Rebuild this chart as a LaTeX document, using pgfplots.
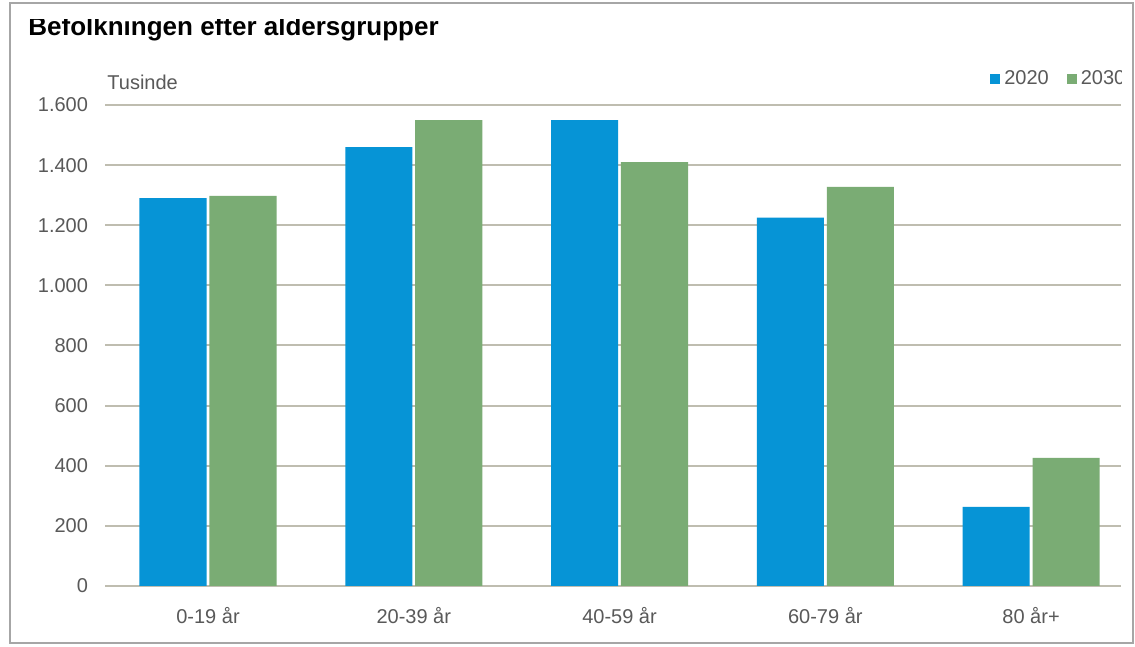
\documentclass[border=0pt]{standalone}
\usepackage{pgfplots}
\pgfplotsset{compat=1.18}
\usepackage{fontspec}
\setmainfont{Liberation Sans}
\definecolor{cblue}{HTML}{0694D6}
\definecolor{cgreen}{HTML}{7AAC74}
\definecolor{cgrid}{HTML}{BFBDB0}
\definecolor{ctext}{HTML}{595959}
\begin{document}
\begin{tikzpicture}
\begin{scope}[x=0.5pt,y=0.5pt]
\useasboundingbox (0,0) rectangle (1135,647);
\fill[white] (0,0) rectangle (1135,647);
\end{scope}
\begin{scope}
\clip (0pt,0pt) rectangle (560.5pt,323.5pt);
\begin{axis}[
  at={(52.5pt,30.5pt)}, anchor=south west,
  scale only axis, width=508pt, height=240.5pt,
  xmin=-0.5006, xmax=4.437, ymin=0, ymax=1600,
  axis line style={draw=none}, tick style={draw=none},
  major tick length=0pt,
  ytick={0,200,...,1600},
  ymajorgrids, grid style={cgrid, line width=1pt},
  xtick={0,1,2,3,4},
  xticklabels={0-19 år, 20-39 år, 40-59 år, 60-79 år, 80 år+},
  ticklabel style={font=\fontsize{10}{12}\selectfont, text=ctext},
  xticklabel style={yshift=-7pt},
  yticklabel style={xshift=-5pt},
  /pgf/number format/.cd, 1000 sep={.}, assume math mode=true,
  /pgfplots/.cd,
  bar width=0.326,
  legend columns=2,
  legend style={at={(rel axis cs:0.871,1.054)}, anchor=west, draw=none, fill=none,
    font=\fontsize{10}{12}\selectfont, text=ctext, inner sep=0pt,
    /tikz/every even column/.append style={column sep=7pt}},
  legend image code/.code={\fill[#1] (0pt,-2.5pt) rectangle (5pt,2.5pt);},
]
\addplot[ybar, fill=cblue, draw=none, bar shift=-0.17] coordinates {(0,1290) (1,1460) (2,1550) (3,1225) (4,263)};
\addlegendentry{2020}
\addplot[ybar, fill=cgreen, draw=none, bar shift=0.17] coordinates {(0,1298) (1,1550) (2,1410) (3,1328) (4,426)};
\addlegendentry{2030}
\end{axis}
\end{scope}
\begin{scope}[x=0.5pt,y=0.5pt]
\node[anchor=west, inner sep=0pt, font=\fontsize{10}{12}\selectfont, text=ctext] at (107,565) {Tusinde};
\begin{scope}
\clip (0,0) rectangle (1135,627);
\node[anchor=base west, inner sep=0pt, font=\fontsize{13}{15}\selectfont\bfseries] at (28,611) {Befolkningen efter aldersgrupper};
\end{scope}
\draw[color=black!35, line width=1pt] (10,4) rectangle (1133,644);
\end{scope}
\end{tikzpicture}
\end{document}
